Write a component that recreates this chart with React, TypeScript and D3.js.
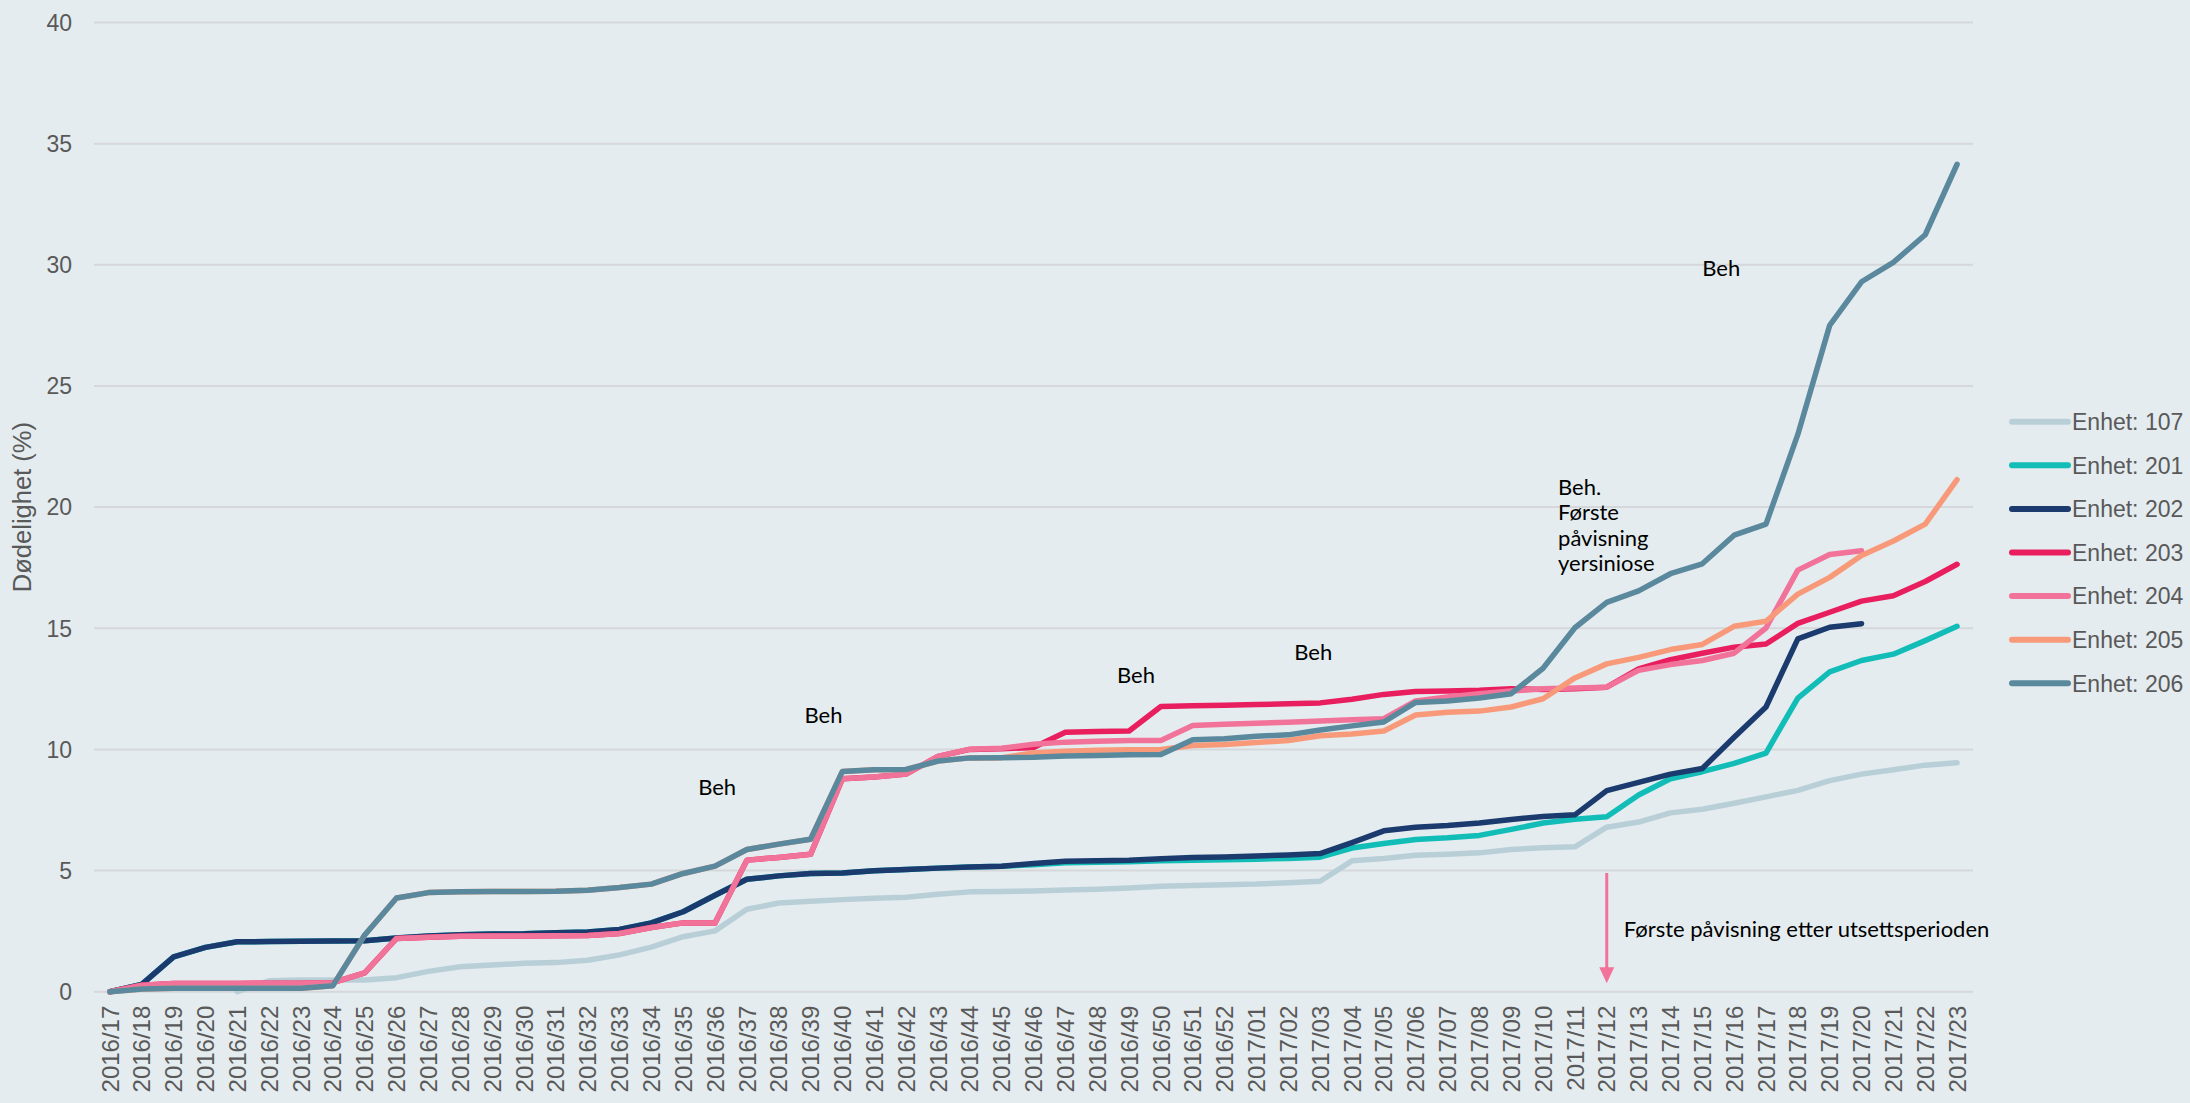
import React, { useEffect, useRef } from "react"
import * as d3 from "d3"

const WIDTH = 2190
const HEIGHT = 1103
const BG = "#e4ecef"

const weeks2016 = d3.range(17, 53).map((w) => `2016/${String(w).padStart(2, "0")}`)
const weeks2017 = d3.range(1, 24).map((w) => `2017/${String(w).padStart(2, "0")}`)
const categories = [...weeks2016, ...weeks2017]

const yTicks = [0, 5, 10, 15, 20, 25, 30, 35, 40]

// Dødelighet (%) per enhet, one value per week (null = no data)
const enhet107 = [
	null, null, null, null, 0, 0.45, 0.48, 0.48, 0.48, 0.58,
	0.84, 1.03, 1.1, 1.17, 1.2, 1.3, 1.52, 1.84, 2.27, 2.51,
	3.4, 3.66, 3.73, 3.8, 3.86, 3.9, 4.02, 4.12, 4.14, 4.16,
	4.2, 4.23, 4.28, 4.35, 4.38, 4.41, 4.44, 4.5, 4.56, 5.4,
	5.5, 5.63, 5.67, 5.73, 5.87, 5.94, 5.98, 6.79, 7.0, 7.38,
	7.53, 7.78, 8.04, 8.31, 8.71, 8.98, 9.16, 9.35, 9.45,
]
const enhet201 = [
	0, 0.3, 1.44, 1.83, 2.06, 2.07, 2.08, 2.09, 2.1, 2.22,
	2.3, 2.35, 2.38, 2.39, 2.43, 2.46, 2.57, 2.84, 3.3, 3.98,
	4.64, 4.78, 4.88, 4.9, 4.99, 5.04, 5.1, 5.15, 5.18, 5.24,
	5.32, 5.34, 5.36, 5.4, 5.43, 5.45, 5.47, 5.5, 5.55, 5.93,
	6.12, 6.28, 6.35, 6.45, 6.7, 6.96, 7.12, 7.22, 8.12, 8.79,
	9.08, 9.42, 9.85, 12.12, 13.2, 13.67, 13.93, 14.49, 15.08,
]
const enhet202 = [
	0, 0.3, 1.44, 1.83, 2.06, 2.07, 2.08, 2.09, 2.1, 2.22,
	2.3, 2.35, 2.38, 2.39, 2.43, 2.46, 2.57, 2.84, 3.3, 3.98,
	4.64, 4.78, 4.88, 4.9, 4.99, 5.04, 5.1, 5.15, 5.18, 5.29,
	5.38, 5.4, 5.43, 5.49, 5.54, 5.56, 5.6, 5.64, 5.7, 6.15,
	6.64, 6.79, 6.86, 6.96, 7.11, 7.23, 7.3, 8.3, 8.64, 8.98,
	9.21, 10.5, 11.75, 14.56, 15.04, 15.19, null, null, null,
]
const enhet203 = [
	0, 0.27, 0.34, 0.34, 0.34, 0.35, 0.35, 0.37, 0.78, 2.2,
	2.25, 2.29, 2.3, 2.3, 2.31, 2.32, 2.4, 2.65, 2.84, 2.84,
	5.43, 5.54, 5.67, 8.79, 8.86, 8.98, 9.71, 10.0, 10.03, 10.08,
	10.71, 10.74, 10.76, 11.77, 11.8, 11.82, 11.85, 11.88, 11.92, 12.07,
	12.27, 12.39, 12.41, 12.44, 12.5, 12.47, 12.5, 12.57, 13.32, 13.7,
	13.97, 14.22, 14.35, 15.2, 15.66, 16.12, 16.34, 16.93, 17.64,
]
const enhet204 = [
	0, 0.27, 0.34, 0.34, 0.34, 0.35, 0.35, 0.37, 0.78, 2.2,
	2.25, 2.29, 2.3, 2.3, 2.31, 2.32, 2.4, 2.65, 2.84, 2.84,
	5.43, 5.54, 5.67, 8.79, 8.86, 8.98, 9.71, 10.01, 10.05, 10.21,
	10.3, 10.34, 10.37, 10.37, 10.99, 11.04, 11.08, 11.12, 11.17, 11.22,
	11.27, 12.0, 12.16, 12.3, 12.41, 12.5, 12.53, 12.57, 13.26, 13.5,
	13.67, 13.97, 15.01, 17.4, 18.04, 18.2, null, null, null,
]
const enhet205 = [
	0, 0.11, 0.14, 0.14, 0.14, 0.14, 0.14, 0.25, 2.34, 3.87,
	4.09, 4.13, 4.14, 4.14, 4.15, 4.19, 4.3, 4.44, 4.88, 5.18,
	5.87, 6.09, 6.29, 9.09, 9.16, 9.17, 9.52, 9.65, 9.66, 9.85,
	9.92, 9.96, 9.99, 10.0, 10.16, 10.2, 10.28, 10.37, 10.56, 10.64,
	10.76, 11.42, 11.53, 11.58, 11.75, 12.09, 12.95, 13.53, 13.8, 14.12,
	14.33, 15.08, 15.29, 16.41, 17.1, 18.0, 18.6, 19.3, 21.13,
]
const enhet206 = [
	0, 0.11, 0.14, 0.14, 0.14, 0.14, 0.14, 0.25, 2.34, 3.87,
	4.09, 4.13, 4.14, 4.14, 4.15, 4.19, 4.3, 4.44, 4.88, 5.18,
	5.87, 6.09, 6.29, 9.09, 9.16, 9.17, 9.52, 9.65, 9.66, 9.68,
	9.73, 9.75, 9.78, 9.79, 10.4, 10.44, 10.54, 10.6, 10.8, 10.97,
	11.13, 11.94, 12.0, 12.12, 12.3, 13.35, 15.02, 16.07, 16.54, 17.25,
	17.66, 18.84, 19.3, 23.0, 27.5, 29.3, 30.1, 31.24, 34.15,
]

const seriesNames = ["Enhet: 107", "Enhet: 201", "Enhet: 202", "Enhet: 203", "Enhet: 204", "Enhet: 205", "Enhet: 206"]
const seriesValues = [enhet107, enhet201, enhet202, enhet203, enhet204, enhet205, enhet206]
const seriesColors = ["#b9cfd8", "#12bdb8", "#1b3b6e", "#e91e5f", "#f27399", "#f89a79", "#5a889d"]

// annotations: category, y value of first baseline, dx in px, lines
const annotations = [
	{ cat: "2016/35", value: 8.1, dx: 15, lines: ["Beh"] },
	{ cat: "2016/39", value: 11.07, dx: -6, lines: ["Beh"] },
	{ cat: "2016/49", value: 12.76, dx: -12, lines: ["Beh"] },
	{ cat: "2017/02", value: 13.67, dx: 6, lines: ["Beh"] },
	{ cat: "2017/15", value: 29.53, dx: 0, lines: ["Beh"] },
	{ cat: "2017/10", value: 20.5, dx: 15, lines: ["Beh.", "Første", "påvisning", "yersiniose"] },
]
const arrowCat = "2017/12"
const arrowFrom = 4.9
const arrowTo = 0.35
const arrowText = "Første påvisning etter utsettsperioden"
const arrowTextValue = 2.25

const App = () => {
	const svgRef = useRef(null)

	useEffect(() => {
		const svg = d3.select(svgRef.current)
		svg.selectAll("*").remove()

		const margin = { top: 22.5, left: 94, right: 217, bottom: 111.3 }
		const x = d3
			.scalePoint()
			.domain(categories)
			.range([margin.left, WIDTH - margin.right])
			.padding(0.5)
		const y = d3
			.scaleLinear()
			.domain([0, 40])
			.range([HEIGHT - margin.bottom, margin.top])

		svg.append("rect").attr("width", WIDTH).attr("height", HEIGHT).attr("fill", BG)

		// grid + y labels
		const grid = svg.append("g")
		grid
			.selectAll("line")
			.data(yTicks)
			.join("line")
			.attr("x1", margin.left)
			.attr("x2", WIDTH - margin.right)
			.attr("y1", (d) => y(d))
			.attr("y2", (d) => y(d))
			.attr("stroke", "#d6d7da")
			.attr("stroke-width", 2)
		grid
			.selectAll("text")
			.data(yTicks)
			.join("text")
			.attr("x", margin.left - 22)
			.attr("y", (d) => y(d))
			.attr("dy", "0.36em")
			.attr("text-anchor", "end")
			.style("font-family", "'Liberation Sans', Arial, sans-serif")
			.style("font-size", "23px")
			.style("fill", "#595959")
			.text((d) => d)

		// y title
		svg
			.append("text")
			.attr("transform", `translate(31,${y(20)}) rotate(-90)`)
			.attr("text-anchor", "middle")
			.style("font-family", "'Liberation Sans', Arial, sans-serif")
			.style("font-size", "25.5px")
			.style("fill", "#595959")
			.text("Dødelighet (%)")

		// x labels
		svg
			.append("g")
			.selectAll("text")
			.data(categories)
			.join("text")
			.attr("transform", (d) => `translate(${x(d)},${y(0) + 14}) rotate(-90)`)
			.attr("dy", "0.36em")
			.attr("text-anchor", "end")
			.style("font-family", "'Liberation Sans', Arial, sans-serif")
			.style("font-size", "24px")
			.style("fill", "#595959")
			.text((d) => d)

		// lines
		const line = d3
			.line()
			.defined((d) => d[1] != null)
			.x((d) => x(d[0]))
			.y((d) => y(d[1]))

		const linesG = svg.append("g")
		seriesValues.forEach((vals, k) => {
			linesG
				.append("path")
				.datum(categories.map((c, i) => [c, vals[i]]))
				.attr("fill", "none")
				.attr("stroke", seriesColors[k])
				.attr("stroke-width", 5.5)
				.attr("stroke-linejoin", "round")
				.attr("stroke-linecap", "round")
				.attr("d", line)
		})

		// annotations
		const annG = svg.append("g")
		annotations.forEach((a) => {
			const t = annG
				.append("text")
				.attr("x", x(a.cat) + a.dx)
				.attr("y", y(a.value))
				.style("font-family", "Lato, sans-serif")
				.style("font-size", "22px")
				.style("fill", "#000")
			a.lines.forEach((ln, j) => {
				t.append("tspan")
					.attr("x", x(a.cat) + a.dx)
					.attr("dy", j === 0 ? 0 : 25.5)
					.text(ln)
			})
		})

		// arrow
		const ax = x(arrowCat)
		const arrowColor = "#f27399"
		svg
			.append("line")
			.attr("x1", ax)
			.attr("x2", ax)
			.attr("y1", y(arrowFrom))
			.attr("y2", y(arrowTo) - 12)
			.attr("stroke", arrowColor)
			.attr("stroke-width", 3)
		svg
			.append("path")
			.attr(
				"d",
				`M${ax - 7.5},${y(arrowTo) - 16} L${ax + 7.5},${y(arrowTo) - 16} L${ax},${y(arrowTo)} Z`,
			)
			.attr("fill", arrowColor)
		svg
			.append("text")
			.attr("x", ax + 17)
			.attr("y", y(arrowTextValue))
			.style("font-family", "Lato, sans-serif")
			.style("font-size", "22px")
			.style("fill", "#000")
			.text(arrowText)

		// legend
		const legend = svg.append("g").attr("transform", "translate(2012,421.7)")
		seriesNames.forEach((name, k) => {
			const g = legend.append("g").attr("transform", `translate(0,${k * 43.6})`)
			g.append("line")
				.attr("x1", 0)
				.attr("x2", 56)
				.attr("stroke", seriesColors[k])
				.attr("stroke-width", 6)
				.attr("stroke-linecap", "round")
			g.append("text")
				.attr("x", 60)
				.attr("dy", "0.36em")
				.style("font-family", "'Liberation Sans', Arial, sans-serif")
				.style("font-size", "23px")
				.style("fill", "#595959")
				.text(name)
		})
	}, [])

	return (
		<svg
			ref={svgRef}
			width={WIDTH}
			height={HEIGHT}
			style={{ position: "absolute", left: 0, top: 0, display: "block" }}
		></svg>
	)
}

export default App
